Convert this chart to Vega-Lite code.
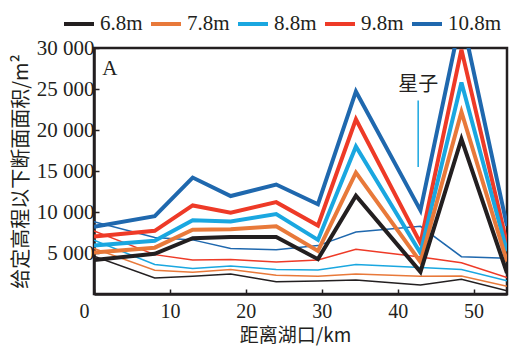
{
  "$schema": "https://vega.github.io/schema/vega-lite/v6.json",
  "autosize": {"type": "none"},
  "padding": {"left": 94, "top": 48, "right": 2, "bottom": 53},
  "width": 413,
  "height": 246,
  "config": {
    "font": "Times New Roman",
    "view": {"stroke": "#231f20", "strokeWidth": 2.5},
    "axis": {
      "grid": false,
      "domainColor": "#231f20",
      "domainWidth": 2.5,
      "tickColor": "#231f20",
      "tickWidth": 1.5,
      "tickSize": -5,
      "labelFont": "Times New Roman",
      "labelFontSize": 21,
      "labelFontWeight": "normal",
      "labelColor": "#231f20",
      "titleFont": "Noto Sans CJK SC",
      "titleFontSize": 20,
      "titleFontWeight": "normal",
      "titleColor": "#231f20"
    },
    "legend": {
      "labelFont": "Times New Roman",
      "labelFontSize": 21,
      "labelFontWeight": "normal"
    }
  },
  "data": {
    "values": [
      {"km": 0, "level": "10.8m", "survey": "s2", "area": 8800},
      {"km": 8, "level": "10.8m", "survey": "s2", "area": 6900},
      {"km": 13, "level": "10.8m", "survey": "s2", "area": 6600},
      {"km": 18, "level": "10.8m", "survey": "s2", "area": 5550},
      {"km": 24, "level": "10.8m", "survey": "s2", "area": 5400},
      {"km": 29.5, "level": "10.8m", "survey": "s2", "area": 5900},
      {"km": 34.5, "level": "10.8m", "survey": "s2", "area": 7550},
      {"km": 43, "level": "10.8m", "survey": "s2", "area": 8250},
      {"km": 48.4, "level": "10.8m", "survey": "s2", "area": 4550},
      {"km": 54.4, "level": "10.8m", "survey": "s2", "area": 4350},

      {"km": 0, "level": "9.8m", "survey": "s2", "area": 7700},
      {"km": 8, "level": "9.8m", "survey": "s2", "area": 4800},
      {"km": 13, "level": "9.8m", "survey": "s2", "area": 4150},
      {"km": 18, "level": "9.8m", "survey": "s2", "area": 4200},
      {"km": 24, "level": "9.8m", "survey": "s2", "area": 3900},
      {"km": 29.5, "level": "9.8m", "survey": "s2", "area": 4150},
      {"km": 34.5, "level": "9.8m", "survey": "s2", "area": 5450},
      {"km": 43, "level": "9.8m", "survey": "s2", "area": 4500},
      {"km": 48.4, "level": "9.8m", "survey": "s2", "area": 3800},
      {"km": 54.4, "level": "9.8m", "survey": "s2", "area": 2000},

      {"km": 0, "level": "8.8m", "survey": "s2", "area": 6550},
      {"km": 8, "level": "8.8m", "survey": "s2", "area": 3600},
      {"km": 13, "level": "8.8m", "survey": "s2", "area": 3100},
      {"km": 18, "level": "8.8m", "survey": "s2", "area": 3400},
      {"km": 24, "level": "8.8m", "survey": "s2", "area": 3000},
      {"km": 29.5, "level": "8.8m", "survey": "s2", "area": 2930},
      {"km": 34.5, "level": "8.8m", "survey": "s2", "area": 3600},
      {"km": 43, "level": "8.8m", "survey": "s2", "area": 3230},
      {"km": 48.4, "level": "8.8m", "survey": "s2", "area": 3000},
      {"km": 54.4, "level": "8.8m", "survey": "s2", "area": 1600},

      {"km": 0, "level": "7.8m", "survey": "s2", "area": 5550},
      {"km": 8, "level": "7.8m", "survey": "s2", "area": 2900},
      {"km": 13, "level": "7.8m", "survey": "s2", "area": 2640},
      {"km": 18, "level": "7.8m", "survey": "s2", "area": 3000},
      {"km": 24, "level": "7.8m", "survey": "s2", "area": 2280},
      {"km": 29.5, "level": "7.8m", "survey": "s2", "area": 2150},
      {"km": 34.5, "level": "7.8m", "survey": "s2", "area": 2450},
      {"km": 43, "level": "7.8m", "survey": "s2", "area": 2150},
      {"km": 48.4, "level": "7.8m", "survey": "s2", "area": 2200},
      {"km": 54.4, "level": "7.8m", "survey": "s2", "area": 930},

      {"km": 0, "level": "6.8m", "survey": "s2", "area": 4600},
      {"km": 8, "level": "6.8m", "survey": "s2", "area": 1950},
      {"km": 13, "level": "6.8m", "survey": "s2", "area": 2150},
      {"km": 18, "level": "6.8m", "survey": "s2", "area": 2440},
      {"km": 24, "level": "6.8m", "survey": "s2", "area": 1500},
      {"km": 29.5, "level": "6.8m", "survey": "s2", "area": 1600},
      {"km": 34.5, "level": "6.8m", "survey": "s2", "area": 1700},
      {"km": 43, "level": "6.8m", "survey": "s2", "area": 1100},
      {"km": 48.4, "level": "6.8m", "survey": "s2", "area": 1790},
      {"km": 54.4, "level": "6.8m", "survey": "s2", "area": 380},

      {"km": 0, "level": "10.8m", "survey": "s1", "area": 8200},
      {"km": 8, "level": "10.8m", "survey": "s1", "area": 9500},
      {"km": 13, "level": "10.8m", "survey": "s1", "area": 14200},
      {"km": 18, "level": "10.8m", "survey": "s1", "area": 11950},
      {"km": 24, "level": "10.8m", "survey": "s1", "area": 13350},
      {"km": 29.5, "level": "10.8m", "survey": "s1", "area": 10950},
      {"km": 34.5, "level": "10.8m", "survey": "s1", "area": 24700},
      {"km": 43, "level": "10.8m", "survey": "s1", "area": 10200},
      {"km": 48.4, "level": "10.8m", "survey": "s1", "area": 34000},
      {"km": 54.4, "level": "10.8m", "survey": "s1", "area": 8300},

      {"km": 0, "level": "9.8m", "survey": "s1", "area": 7000},
      {"km": 8, "level": "9.8m", "survey": "s1", "area": 7700},
      {"km": 13, "level": "9.8m", "survey": "s1", "area": 10800},
      {"km": 18, "level": "9.8m", "survey": "s1", "area": 9900},
      {"km": 24, "level": "9.8m", "survey": "s1", "area": 11200},
      {"km": 29.5, "level": "9.8m", "survey": "s1", "area": 8350},
      {"km": 34.5, "level": "9.8m", "survey": "s1", "area": 21300},
      {"km": 43, "level": "9.8m", "survey": "s1", "area": 6200},
      {"km": 48.4, "level": "9.8m", "survey": "s1", "area": 29800},
      {"km": 54.4, "level": "9.8m", "survey": "s1", "area": 6100},

      {"km": 0, "level": "8.8m", "survey": "s1", "area": 5900},
      {"km": 8, "level": "8.8m", "survey": "s1", "area": 6500},
      {"km": 13, "level": "8.8m", "survey": "s1", "area": 9000},
      {"km": 18, "level": "8.8m", "survey": "s1", "area": 8850},
      {"km": 24, "level": "8.8m", "survey": "s1", "area": 9750},
      {"km": 29.5, "level": "8.8m", "survey": "s1", "area": 6600},
      {"km": 34.5, "level": "8.8m", "survey": "s1", "area": 18000},
      {"km": 43, "level": "8.8m", "survey": "s1", "area": 5000},
      {"km": 48.4, "level": "8.8m", "survey": "s1", "area": 25800},
      {"km": 54.4, "level": "8.8m", "survey": "s1", "area": 5200},

      {"km": 0, "level": "7.8m", "survey": "s1", "area": 5050},
      {"km": 8, "level": "7.8m", "survey": "s1", "area": 5650},
      {"km": 13, "level": "7.8m", "survey": "s1", "area": 7850},
      {"km": 18, "level": "7.8m", "survey": "s1", "area": 7900},
      {"km": 24, "level": "7.8m", "survey": "s1", "area": 8250},
      {"km": 29.5, "level": "7.8m", "survey": "s1", "area": 5250},
      {"km": 34.5, "level": "7.8m", "survey": "s1", "area": 14800},
      {"km": 43, "level": "7.8m", "survey": "s1", "area": 3900},
      {"km": 48.4, "level": "7.8m", "survey": "s1", "area": 22200},
      {"km": 54.4, "level": "7.8m", "survey": "s1", "area": 3950},

      {"km": 0, "level": "6.8m", "survey": "s1", "area": 4150},
      {"km": 8, "level": "6.8m", "survey": "s1", "area": 4900},
      {"km": 13, "level": "6.8m", "survey": "s1", "area": 6800},
      {"km": 18, "level": "6.8m", "survey": "s1", "area": 6950},
      {"km": 24, "level": "6.8m", "survey": "s1", "area": 6950},
      {"km": 29.5, "level": "6.8m", "survey": "s1", "area": 4250},
      {"km": 34.5, "level": "6.8m", "survey": "s1", "area": 12000},
      {"km": 43, "level": "6.8m", "survey": "s1", "area": 2700},
      {"km": 48.4, "level": "6.8m", "survey": "s1", "area": 18900},
      {"km": 54.4, "level": "6.8m", "survey": "s1", "area": 2550}
    ]
  },
  "encoding": {
    "x": {
      "field": "km",
      "type": "quantitative",
      "scale": {"domain": [0, 54.4], "nice": false, "zero": false},
      "axis": {
        "title": "距离湖口/km",
        "values": [0, 10, 20, 30, 40, 50],
        "labelFontSize": 20,
        "labelPadding": 12,
        "labelAlign": {"condition": {"test": "datum.value === 0", "value": "right"}, "value": "center"},
        "labelOffset": {"condition": {"test": "datum.value === 0", "value": -5}, "value": 0},
        "labelFlush": false,
        "titleFontSize": 19,
        "titlePadding": 5,
        "titleX": 201
      }
    },
    "y": {
      "field": "area",
      "type": "quantitative",
      "scale": {"domain": [0, 30000], "nice": false},
      "axis": {
        "title": "给定高程以下断面面积/m²",
        "values": [5000, 10000, 15000, 20000, 25000, 30000],
        "labelExpr": "replace(format(datum.value, ',d'), ',', ' ')",
        "labelPadding": 5,
        "titlePadding": 5
      }
    }
  },
  "layer": [
    {
      "transform": [{"filter": "datum.survey === 's2'"}],
      "mark": {"type": "line", "clip": true, "strokeWidth": 1.5, "strokeJoin": "miter"},
      "encoding": {
        "color": {
          "field": "level",
          "type": "nominal",
          "scale": {
            "domain": ["6.8m", "7.8m", "8.8m", "9.8m", "10.8m"],
            "range": ["#231f20", "#e8793a", "#1aa7e0", "#ee3a27", "#1f68ae"]
          },
          "legend": {
            "title": null,
            "orient": "none",
            "direction": "horizontal",
            "legendX": -32,
            "legendY": -41,
            "symbolType": "stroke",
            "symbolSize": 900,
            "symbolStrokeWidth": 4,
            "labelFont": "Times New Roman",
            "labelFontSize": 21,
            "labelColor": "#231f20",
            "labelOffset": 4,
            "columnPadding": 0,
            "padding": 0
          }
        }
      }
    },
    {
      "transform": [{"filter": "datum.survey === 's1'"}],
      "mark": {"type": "line", "clip": true, "strokeWidth": 4, "strokeJoin": "miter"},
      "encoding": {
        "color": {"field": "level", "type": "nominal"}
      }
    },
    {
      "data": {"values": [{"km": 42.7, "lo": 15500, "hi": 23600}]},
      "mark": {"type": "rule", "color": "#1aa7e0", "strokeWidth": 1.5},
      "encoding": {
        "x": {"field": "km", "type": "quantitative"},
        "y": {"field": "lo", "type": "quantitative"},
        "y2": {"field": "hi"}
      }
    },
    {
      "data": {"values": [{"km": 42.7, "area": 25500, "name": "星子"}]},
      "mark": {"type": "text", "font": "Noto Sans CJK SC", "fontSize": 20, "color": "#231f20", "align": "center", "baseline": "middle"},
      "encoding": {
        "x": {"field": "km", "type": "quantitative"},
        "y": {"field": "area", "type": "quantitative"},
        "text": {"field": "name"}
      }
    },
    {
      "data": {"values": [{"km": 1.1, "area": 27500, "name": "A"}]},
      "mark": {"type": "text", "font": "Times New Roman", "fontSize": 21, "color": "#231f20", "align": "left", "baseline": "middle"},
      "encoding": {
        "x": {"field": "km", "type": "quantitative"},
        "y": {"field": "area", "type": "quantitative"},
        "text": {"field": "name"}
      }
    }
  ]
}
